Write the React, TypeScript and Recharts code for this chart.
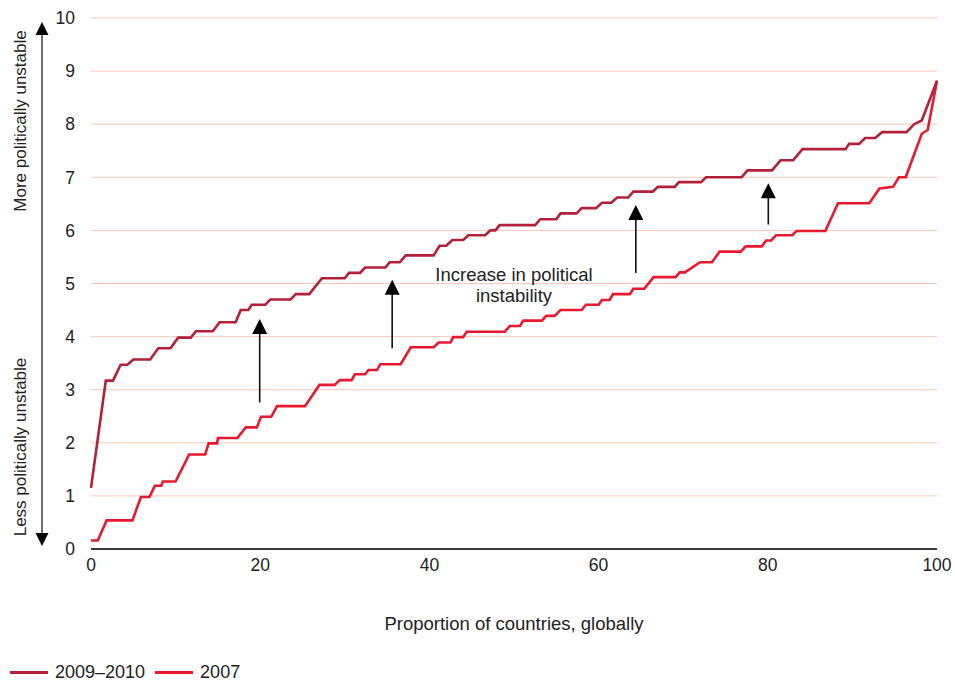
import React from "react";
import {
  LineChart,
  Line,
  XAxis,
  YAxis,
  CartesianGrid,
  ReferenceLine,
  ReferenceDot,
} from "recharts";

// step-shaped index curves (x = % of countries, y = index)
const recentX = [
  0, 1.75, 2.6, 3.5, 4.3, 5.0, 7.0, 7.95, 9.4, 10.3, 11.8, 12.4, 14.4, 15.2, 17.1, 17.7, 18.6, 19.0,
  20.6, 21.2, 23.6, 24.2, 25.8, 27.3, 30.0, 30.5, 31.8, 32.4, 34.8, 35.3, 36.5, 37.2, 40.5, 41.2,
  42.0, 42.7, 44.0, 44.6, 46.6, 47.2, 47.8, 48.3, 52.5, 53.1, 55.0, 55.5, 57.4, 58.0, 59.7, 60.4,
  61.5, 62.2, 63.5, 64.1, 66.4, 67.0, 69.0, 69.5, 72.1, 72.7, 76.9, 77.6, 80.5, 81.5, 83.0, 84.1,
  89.2, 89.6, 90.8, 91.5, 92.7, 93.5, 96.4, 97.3, 98.2, 100,
];
const recentY = [
  1.15, 3.17, 3.17, 3.47, 3.47, 3.57, 3.57, 3.78, 3.78, 3.98, 3.98, 4.1, 4.1, 4.27, 4.27, 4.5, 4.5, 4.6,
  4.6, 4.7, 4.7, 4.8, 4.8, 5.1, 5.1, 5.2, 5.2, 5.3, 5.3, 5.4, 5.4, 5.53, 5.53, 5.71,
  5.71, 5.82, 5.82, 5.91, 5.91, 6.0, 6.0, 6.1, 6.1, 6.21, 6.21, 6.32, 6.32, 6.42, 6.42, 6.52,
  6.52, 6.62, 6.62, 6.73, 6.73, 6.82, 6.82, 6.91, 6.91, 7.0, 7.0, 7.13, 7.13, 7.32, 7.32, 7.53,
  7.53, 7.63, 7.63, 7.74, 7.74, 7.85, 7.85, 8.0, 8.07, 8.82,
];

const earlyX = [
  0, 0.8, 1.85, 4.9, 5.9, 6.9, 7.55, 8.3, 8.5, 10.0, 11.6, 13.5, 13.9, 14.9, 15.0, 17.3, 18.3, 19.6,
  20.1, 21.3, 22.0, 25.3, 27.0, 28.8, 29.4, 30.8, 31.2, 32.4, 32.8, 33.8, 34.2, 36.6, 37.8, 40.5,
  41.1, 42.5, 42.8, 44.0, 44.4, 48.9, 49.5, 50.7, 51.1, 53.3, 53.8, 54.8, 55.5, 58.0, 58.5, 60.0,
  60.4, 61.3, 61.7, 63.7, 64.1, 65.4, 66.5, 69.1, 69.6, 70.2, 72.0, 73.4, 74.3, 76.8, 77.4, 79.3,
  79.8, 80.4, 81.0, 82.9, 83.4, 86.8, 88.3, 92.0, 93.2, 94.8, 95.5, 96.3, 98.2, 98.9, 100,
];
const earlyY = [
  0.16, 0.16, 0.54, 0.54, 0.98, 0.98, 1.19, 1.19, 1.27, 1.27, 1.78, 1.78, 1.99, 1.99, 2.09, 2.09, 2.29, 2.29,
  2.49, 2.49, 2.69, 2.69, 3.09, 3.09, 3.18, 3.18, 3.29, 3.29, 3.37, 3.37, 3.48, 3.48, 3.8, 3.8,
  3.89, 3.89, 3.99, 3.99, 4.09, 4.09, 4.2, 4.2, 4.3, 4.3, 4.39, 4.39, 4.5, 4.5, 4.6, 4.6,
  4.69, 4.69, 4.8, 4.8, 4.9, 4.9, 5.12, 5.12, 5.21, 5.21, 5.4, 5.4, 5.6, 5.6, 5.7, 5.7,
  5.81, 5.81, 5.91, 5.91, 5.99, 5.99, 6.51, 6.51, 6.79, 6.82, 7.0, 7.0, 7.82, 7.89, 8.82,
];

const seriesNames = ["2009–2010", "2007"];
const seriesColors = ["#b3203a", "#e8192f"];

const xTicks = [0, 20, 40, 60, 80, 100];
const yTicks = [0, 1, 2, 3, 4, 5, 6, 7, 8, 9, 10];

// annotation arrows: x position, tail value, tip value
const arrowX = [19.94, 35.6, 64.4, 80.06];
const arrowFrom = [2.76, 3.78, 5.2, 6.11];
const arrowTo = [4.33, 5.07, 6.48, 6.89];

const recentData = recentX.map((x, i) => ({ x, y: recentY[i] }));
const earlyData = earlyX.map((x, i) => ({ x, y: earlyY[i] }));

const FONT = "'Liberation Sans', Arial, Helvetica, sans-serif";
const TEXT = "#222";

function Arrow(props: any) {
  const { x1, y1, x2, y2 } = props;
  const tipY = Math.min(y1, y2);
  const baseY = Math.max(y1, y2);
  return (
    <g>
      <line x1={x1} y1={baseY} x2={x2} y2={tipY + 12} stroke="#111" strokeWidth={1.6} />
      <polygon points={`${x1},${tipY} ${x1 - 7.5},${tipY + 15} ${x1 + 7.5},${tipY + 15}`} fill="#000" />
    </g>
  );
}

function SideLabel(props: any) {
  const { viewBox } = props;
  const top = viewBox.y;
  const bottom = viewBox.y + viewBox.height;
  const ax = 42;
  return (
    <g fontFamily={FONT} fontSize={17} fill={TEXT}>
      <text transform={`translate(26,${top + 103}) rotate(-90)`} textAnchor="middle">
        More politically unstable
      </text>
      <text transform={`translate(26,${bottom - 102}) rotate(-90)`} textAnchor="middle">
        Less politically unstable
      </text>
      <line x1={ax} y1={top + 14} x2={ax} y2={bottom - 14} stroke="#333" strokeWidth={1.4} />
      <polygon points={`${ax},${top + 4} ${ax - 6.5},${top + 17} ${ax + 6.5},${top + 17}`} fill="#000" />
      <polygon points={`${ax},${bottom - 3} ${ax - 6.5},${bottom - 16} ${ax + 6.5},${bottom - 16}`} fill="#000" />
    </g>
  );
}

function XTitle(props: any) {
  const { viewBox } = props;
  return (
    <text
      x={viewBox.x + viewBox.width / 2}
      y={viewBox.y + 81}
      textAnchor="middle"
      fontFamily={FONT}
      fontSize={18.5}
      fill={TEXT}
    >
      Proportion of countries, globally
    </text>
  );
}

function Note(props: any) {
  const { cx, cy } = props;
  return (
    <text x={cx} y={cy} textAnchor="middle" fontFamily={FONT} fontSize={18.5} fill={TEXT}>
      <tspan x={cx}>Increase in political</tspan>
      <tspan x={cx} dy={21}>instability</tspan>
    </text>
  );
}

export default function App() {
  return (
    <div style={{ position: "absolute", left: 0, top: 0, width: 955, height: 682, background: "#fff" }}>
      <LineChart width={955} height={682} margin={{ top: 18, right: 18, bottom: 0, left: 0 }}>
        <CartesianGrid vertical={false} stroke="#f8c8bb" strokeWidth={1} />
        <XAxis
          type="number"
          dataKey="x"
          domain={[0, 100]}
          ticks={xTicks}
          height={133}
          tickLine={false}
          tickSize={0}
          tickMargin={10}
          axisLine={{ stroke: "#000", strokeWidth: 1.5 }}
          tick={{ fontSize: 17.5, fill: TEXT, fontFamily: FONT }}
          label={{ content: XTitle } as any}
        />
        <YAxis
          type="number"
          domain={[0, 10]}
          ticks={yTicks}
          width={91}
          axisLine={false}
          tickLine={false}
          tickSize={0}
          tickMargin={16}
          tick={{ fontSize: 17.5, fill: TEXT, fontFamily: FONT }}
          label={{ content: SideLabel } as any}
        />
        <Line
          data={earlyData}
          dataKey="y"
          type="linear"
          stroke={seriesColors[1]}
          strokeWidth={2.6}
          dot={false}
          isAnimationActive={false}
        />
        <Line
          data={recentData}
          dataKey="y"
          type="linear"
          stroke={seriesColors[0]}
          strokeWidth={2.6}
          dot={false}
          isAnimationActive={false}
        />
        {arrowX.map((x, i) => (
          <ReferenceLine
            key={i}
            segment={[
              { x, y: arrowFrom[i] },
              { x, y: arrowTo[i] },
            ]}
            shape={Arrow}
          />
        ))}
        <ReferenceDot x={50} y={5.05} r={0} shape={Note} />
      </LineChart>
      <div
        style={{
          position: "absolute",
          left: 10,
          top: 662,
          display: "flex",
          alignItems: "center",
          fontFamily: FONT,
          fontSize: 18,
          color: TEXT,
        }}
      >
        {seriesNames.map((name, i) => (
          <div key={name} style={{ display: "flex", alignItems: "center", marginRight: 10 }}>
            <span style={{ display: "inline-block", width: 38, height: 3, background: seriesColors[i], marginRight: 7 }} />
            <span>{name}</span>
          </div>
        ))}
      </div>
    </div>
  );
}
